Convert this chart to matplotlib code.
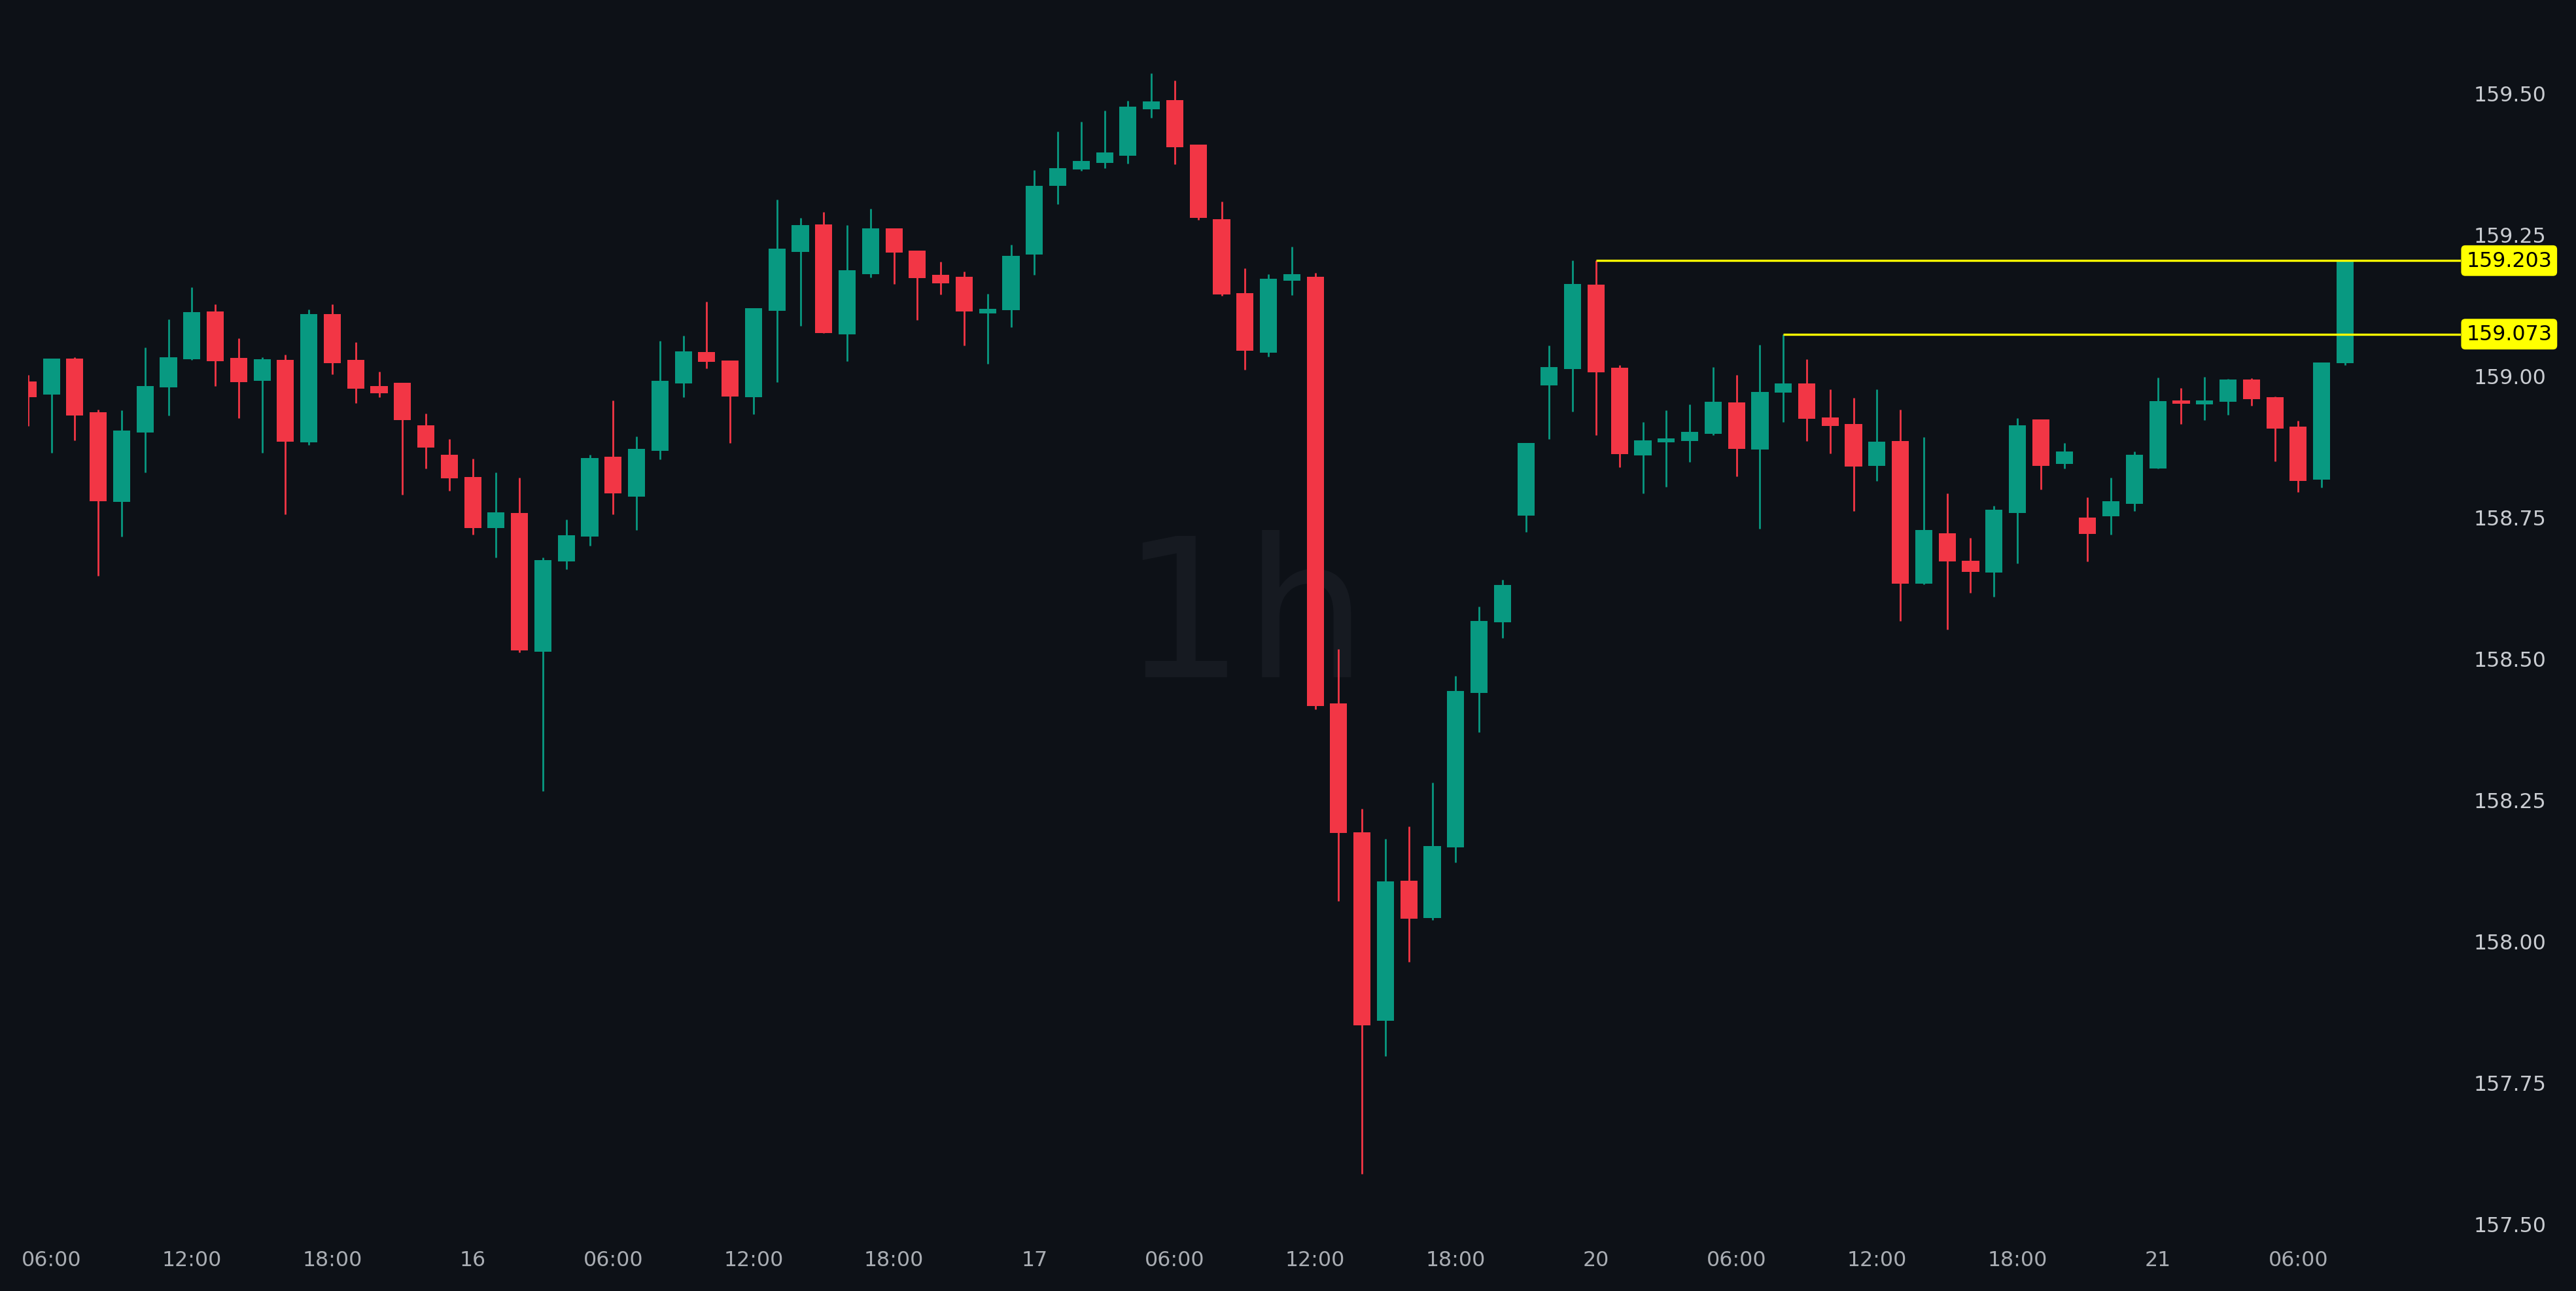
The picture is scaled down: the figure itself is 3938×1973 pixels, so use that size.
import matplotlib
matplotlib.use("Agg")
import matplotlib.pyplot as plt
import numpy as np

# -------------------------------
# 1時間足ローソク足 (index 0 = 15日 05:00)
# -------------------------------
opens = [158.989, 158.966, 159.030, 158.935, 158.776, 158.899, 158.979, 159.029, 159.113, 159.031,
         158.990, 159.027, 158.882, 159.108, 159.027, 158.981, 158.987, 158.912, 158.860, 158.820,
         158.730, 158.757, 158.512, 158.671, 158.715, 158.856, 158.786, 158.867, 158.986, 159.041,
         159.026, 158.962, 159.114, 159.218, 159.267, 159.073, 159.179, 159.260, 159.221, 159.178,
         159.174, 159.110, 159.115, 159.214, 159.335, 159.364, 159.376, 159.389, 159.471, 159.487,
         159.408, 159.276, 159.146, 159.040, 159.168, 159.175, 158.420, 158.192, 157.859, 158.106,
         158.040, 158.165, 158.439, 158.563, 158.752, 158.982, 159.011, 159.161, 159.014, 158.858,
         158.882, 158.884, 158.897, 158.952, 158.869, 158.970, 158.986, 158.926, 158.914, 158.840,
         158.884, 158.632, 158.721, 158.672, 158.652, 158.757, 158.922, 158.843, 158.749, 158.751,
         158.773, 158.836, 158.956, 158.949, 158.954, 158.993, 158.961, 158.909, 158.816, 159.022]
highs = [159.001, 159.030, 159.032, 158.940, 158.938, 159.049, 159.099, 159.156, 159.126, 159.066,
         159.032, 159.037, 159.117, 159.126, 159.059, 159.007, 158.987, 158.933, 158.887, 158.853,
         158.828, 158.819, 158.678, 158.745, 158.860, 158.956, 158.892, 159.061, 159.070, 159.130,
         159.026, 159.119, 159.311, 159.278, 159.289, 159.266, 159.295, 159.260, 159.221, 159.201,
         159.184, 159.144, 159.231, 159.363, 159.431, 159.449, 159.468, 159.486, 159.534, 159.521,
         159.408, 159.307, 159.190, 159.179, 159.228, 159.181, 158.516, 158.234, 158.181, 158.203,
         158.280, 158.469, 158.591, 158.639, 158.881, 159.053, 159.203, 159.203, 159.018, 158.917,
         158.938, 158.949, 159.015, 159.001, 159.054, 159.073, 159.029, 158.976, 158.960, 158.976,
         158.940, 158.891, 158.791, 158.713, 158.770, 158.924, 158.922, 158.881, 158.784, 158.819,
         158.865, 158.996, 158.978, 158.997, 158.994, 158.995, 158.963, 158.920, 159.023, 159.203]
lows = [158.911, 158.863, 158.885, 158.646, 158.715, 158.828, 158.929, 159.028, 158.981, 158.925,
        158.863, 158.754, 158.877, 159.002, 158.951, 158.961, 158.789, 158.836, 158.796, 158.719,
        158.678, 158.510, 158.265, 158.657, 158.699, 158.755, 158.727, 158.852, 158.961, 159.013,
        158.881, 158.931, 158.988, 159.088, 159.075, 159.025, 159.173, 159.162, 159.098, 159.143,
        159.053, 159.021, 159.085, 159.178, 159.303, 159.362, 159.367, 159.375, 159.456, 159.374,
        159.275, 159.141, 159.010, 159.033, 159.142, 158.410, 158.071, 157.588, 157.796, 157.963,
        158.037, 158.139, 158.369, 158.536, 158.723, 158.887, 158.936, 158.895, 158.838, 158.792,
        158.803, 158.847, 158.895, 158.821, 158.729, 158.917, 158.884, 158.862, 158.760, 158.814,
        158.566, 158.631, 158.551, 158.616, 158.609, 158.668, 158.798, 158.835, 158.671, 158.718,
        158.760, 158.836, 158.914, 158.921, 158.930, 158.946, 158.848, 158.794, 158.802, 159.018]
closes = [158.961, 159.030, 158.929, 158.777, 158.902, 158.981, 159.032, 159.112, 159.025, 158.988,
          159.029, 158.883, 159.108, 159.022, 158.977, 158.969, 158.921, 158.873, 158.818, 158.730,
          158.758, 158.514, 158.673, 158.717, 158.854, 158.792, 158.870, 158.990, 159.042, 159.024,
          158.963, 159.119, 159.224, 159.266, 159.075, 159.186, 159.260, 159.217, 159.172, 159.163,
          159.113, 159.118, 159.211, 159.335, 159.367, 159.379, 159.394, 159.475, 159.484, 159.403,
          159.279, 159.143, 159.044, 159.171, 159.179, 158.416, 158.191, 157.851, 158.105, 158.039,
          158.168, 158.442, 158.566, 158.630, 158.881, 159.015, 159.162, 159.005, 158.861, 158.885,
          158.889, 158.900, 158.953, 158.870, 158.971, 158.986, 158.923, 158.911, 158.839, 158.883,
          158.632, 158.727, 158.671, 158.653, 158.762, 158.912, 158.840, 158.865, 158.720, 158.777,
          158.860, 158.955, 158.950, 158.956, 158.993, 158.958, 158.906, 158.814, 159.023, 159.203]

# x軸の目盛り (6時間ごと)
tick_pos = [1, 7, 13, 19, 25, 31, 37, 43, 49, 55, 61, 67, 73, 79, 85, 91, 97]
tick_labels = ["06:00", "12:00", "18:00", "16", "06:00", "12:00", "18:00", "17",
               "06:00", "12:00", "18:00", "20", "06:00", "12:00", "18:00", "21", "06:00"]

# y軸の目盛り
y_ticks = [157.50, 157.75, 158.00, 158.25, 158.50, 158.75, 159.00, 159.25, 159.50]

# 水平ライン（開始ローソクのindex, 価格）
level_starts = [67, 75]
level_prices = [159.203, 159.073]
level_labels = ["159.203", "159.073"]

# -------------------------------
# 描画
# -------------------------------
BG = "#0d1117"
UP = "#089981"
DOWN = "#f23645"
YELLOW = "#ffff00"
FS = 11.4

fig = plt.figure(figsize=(3938 / 200, 1974 / 200), dpi=200, facecolor=BG)
ax = fig.add_axes([42.5 / 3938, 1 - 1898 / 1974, 3719.5 / 3938, 1898 / 1974])
ax.set_facecolor(BG)

x_right = 103.95
ax.set_xlim(-0.01, x_right)
ax.set_ylim(157.469, 159.665)

# 透かし文字
ax.text(0.5, 0.4547, "1h", transform=ax.transAxes, ha="center", va="baseline",
        fontsize=107, color="#161a21", zorder=0)

o = np.array(opens)
h = np.array(highs)
l = np.array(lows)
c = np.array(closes)
x = np.arange(len(o))
colors = np.where(c >= o, UP, DOWN)

# ヒゲ
ax.vlines(x, l, h, colors=colors, linewidth=1.0, zorder=2)
# 実体（薄すぎる実体は最低限の高さにする）
body_h = np.maximum(np.abs(c - o), 0.004)
body_bottom = (o + c) / 2 - body_h / 2
ax.bar(x, body_h, bottom=body_bottom, width=0.73, color=colors, linewidth=0, zorder=3)

# 黄色の水平ラインと価格ラベル
for start, price, label in zip(level_starts, level_prices, level_labels):
    ax.hlines(price, start, x_right, colors=YELLOW, linewidth=1.2, zorder=4)
    ax.annotate(label, xy=(1, price), xycoords=("axes fraction", "data"),
                xytext=(3, 0), textcoords="offset points", ha="left", va="center",
                fontsize=FS, color="black", annotation_clip=False, zorder=6,
                bbox=dict(boxstyle="round,pad=0.25,rounding_size=0.2", fc=YELLOW, ec="none"))

ax.set_xticks(tick_pos)
ax.set_xticklabels(tick_labels)
ax.set_yticks(y_ticks)
ax.set_yticklabels([f"{v:.2f}" for v in y_ticks])
ax.yaxis.tick_right()
ax.tick_params(axis="x", length=0, pad=4.8, colors="#a9adb3", labelsize=FS)
ax.tick_params(axis="y", length=0, pad=7.0, colors="#c9ccd1", labelsize=FS)
for s in ax.spines.values():
    s.set_visible(False)

fig.savefig("out.png", dpi=200, facecolor=BG)
